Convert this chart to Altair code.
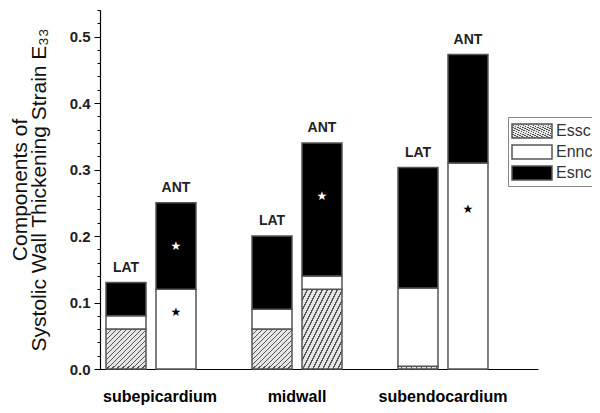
import altair as alt
import pandas as pd

# ---- data ----
regions = ["subepicardium", "midwall", "subendocardium"]
walls = ["LAT", "ANT"]
components = ["Essc", "Ennc", "Esnc"]

# bar order: subepi LAT, subepi ANT, midwall LAT, midwall ANT, subendo LAT, subendo ANT
bar_region = ["subepicardium", "subepicardium", "midwall", "midwall", "subendocardium", "subendocardium"]
bar_wall = ["LAT", "ANT", "LAT", "ANT", "LAT", "ANT"]
essc = [0.060, 0.000, 0.060, 0.120, 0.004, 0.000]
ennc = [0.020, 0.120, 0.030, 0.020, 0.118, 0.310]
esnc = [0.050, 0.130, 0.110, 0.200, 0.181, 0.163]

# significance stars (region, wall, value, segment they sit on)
star_region = ["subepicardium", "subepicardium", "midwall", "subendocardium"]
star_wall = ["ANT", "ANT", "ANT", "ANT"]
star_y = [0.185, 0.086, 0.260, 0.240]
star_on = ["Esnc", "Ennc", "Esnc", "Ennc"]

y_ticks = [round(i * 0.02, 2) for i in range(28)]

# ---- tables ----
rows = []
for r, w, a, b, c in zip(bar_region, bar_wall, essc, ennc, esnc):
    for rank, (comp, v) in enumerate(zip(components, [a, b, c])):
        rows.append({"region": r, "wall": w, "comp": comp, "value": v, "rank": rank})
df = pd.DataFrame(rows)

tot = pd.DataFrame({
    "region": bar_region,
    "wall": bar_wall,
    "total": [a + b + c for a, b, c in zip(essc, ennc, esnc)],
})
stars = pd.DataFrame({"region": star_region, "wall": star_wall, "y": star_y, "on": star_on})

# ---- hatch gradient (as a Vega expression object literal) ----
N = 16
LINE, BG = "#555555", "#e6e6e6"
stop_parts = []
for k in range(N):
    a0 = k / N
    a1 = (k + 0.32) / N
    a2 = (k + 1) / N
    stop_parts += [
        f"{{offset:{a0:.5f},color:'{LINE}'}}",
        f"{{offset:{a1:.5f},color:'{LINE}'}}",
        f"{{offset:{a1:.5f},color:'{BG}'}}",
        f"{{offset:{a2:.5f},color:'{BG}'}}",
    ]
hatch_expr = "{gradient:'linear',x1:0,y1:0,x2:1,y2:1,stops:[" + ",".join(stop_parts) + "]}"

FONT = "Liberation Sans"
major = "abs(datum.value*10 - round(datum.value*10)) < 0.001"

x_scale = alt.Scale(paddingInner=0.3836, paddingOuter=0.1918, align=0.107)
x_axis = alt.Axis(
    title=None, ticks=False, labelAngle=0, labelFontSize=16, labelFontWeight="bold",
    labelFont=FONT, labelColor="#000", labelPadding=19, domainColor="#000",
    domainWidth=1.2,
    labelOffset={"condition": {"test": "datum.value === 'subepicardium'", "value": 9}, "value": 0},
)
xo_scale = alt.Scale(paddingInner=0.2, paddingOuter=0)
y_scale = alt.Scale(domain=[0, 0.54], nice=False, zero=True)
y_axis = alt.Axis(
    values=y_ticks, labelExpr=f"{major} ? format(datum.value, '.1f') : ''",
    labelOverlap=False, ticks=True, tickWidth=1,
    tickSize={"condition": {"test": major, "value": 6}, "value": 3},
    tickColor="#000", domainColor="#000", domainWidth=1.2, grid=False,
    labelFontSize=15, labelFontWeight="bold", labelFont=FONT, labelColor="#222",
    labelPadding=4,
    title=["Components of", "Systolic Wall Thickening Strain E\u2083\u2083"],
    titleFontSize=21, titleFontWeight="normal", titleFont=FONT, titleColor="#111",
    titleLineHeight=19, titlePadding=20,
)

legend = alt.Legend(
    orient="none", legendX=408, legendY=107,
    symbolType="M-1,-0.7H3V0.7H-1Z", symbolSize=400,
    symbolStrokeColor="#555", symbolStrokeWidth=1.5, symbolOpacity=1,
    labelFontSize=16, labelFont=FONT, labelColor="#333", labelOffset=23,
    strokeColor="#888", padding=3, rowPadding=0,
)

bars = alt.Chart(df).mark_bar(stroke="#555", strokeWidth=1.5, opacity=1).encode(
    x=alt.X("region:N", sort=regions, scale=x_scale, axis=x_axis),
    xOffset=alt.XOffset("wall:N", sort=walls, scale=xo_scale),
    y=alt.Y("value:Q", stack="zero", scale=y_scale, axis=y_axis),
    fill=alt.Fill(
        "comp:N",
        scale=alt.Scale(domain=components, range=[{"expr": hatch_expr}, "#ffffff", "#000000"]),
        legend=legend, title=None,
    ),
    order=alt.Order("rank:Q"),
)

labels = alt.Chart(tot).mark_text(
    dy=-11, baseline="alphabetic", fontSize=14, fontWeight="bold", font=FONT, color="#222"
).encode(
    x=alt.X("region:N", sort=regions, scale=x_scale, axis=x_axis),
    xOffset=alt.XOffset("wall:N", sort=walls, scale=xo_scale),
    y=alt.Y("total:Q", scale=y_scale, axis=y_axis),
    text="wall:N",
)

star_marks = alt.Chart(stars).mark_text(
    text="\u2605", fontSize=12, baseline="middle", font="DejaVu Sans"
).encode(
    x=alt.X("region:N", sort=regions, scale=x_scale, axis=x_axis),
    xOffset=alt.XOffset("wall:N", sort=walls, scale=xo_scale),
    y=alt.Y("y:Q", scale=y_scale, axis=y_axis),
    color=alt.condition("datum.on === 'Esnc'", alt.value("#ffffff"), alt.value("#000000")),
)

chart = alt.layer(bars, labels, star_marks).properties(
    width=438, height=359,
    autosize=alt.AutoSizeParams(type="none"),
    padding={"left": 92, "top": 2, "right": 54, "bottom": 36},
).configure_view(stroke=None).configure_axis(labelOverlap=False)

chart.save("out.html", embed_options={"renderer": "svg", "actions": False})
